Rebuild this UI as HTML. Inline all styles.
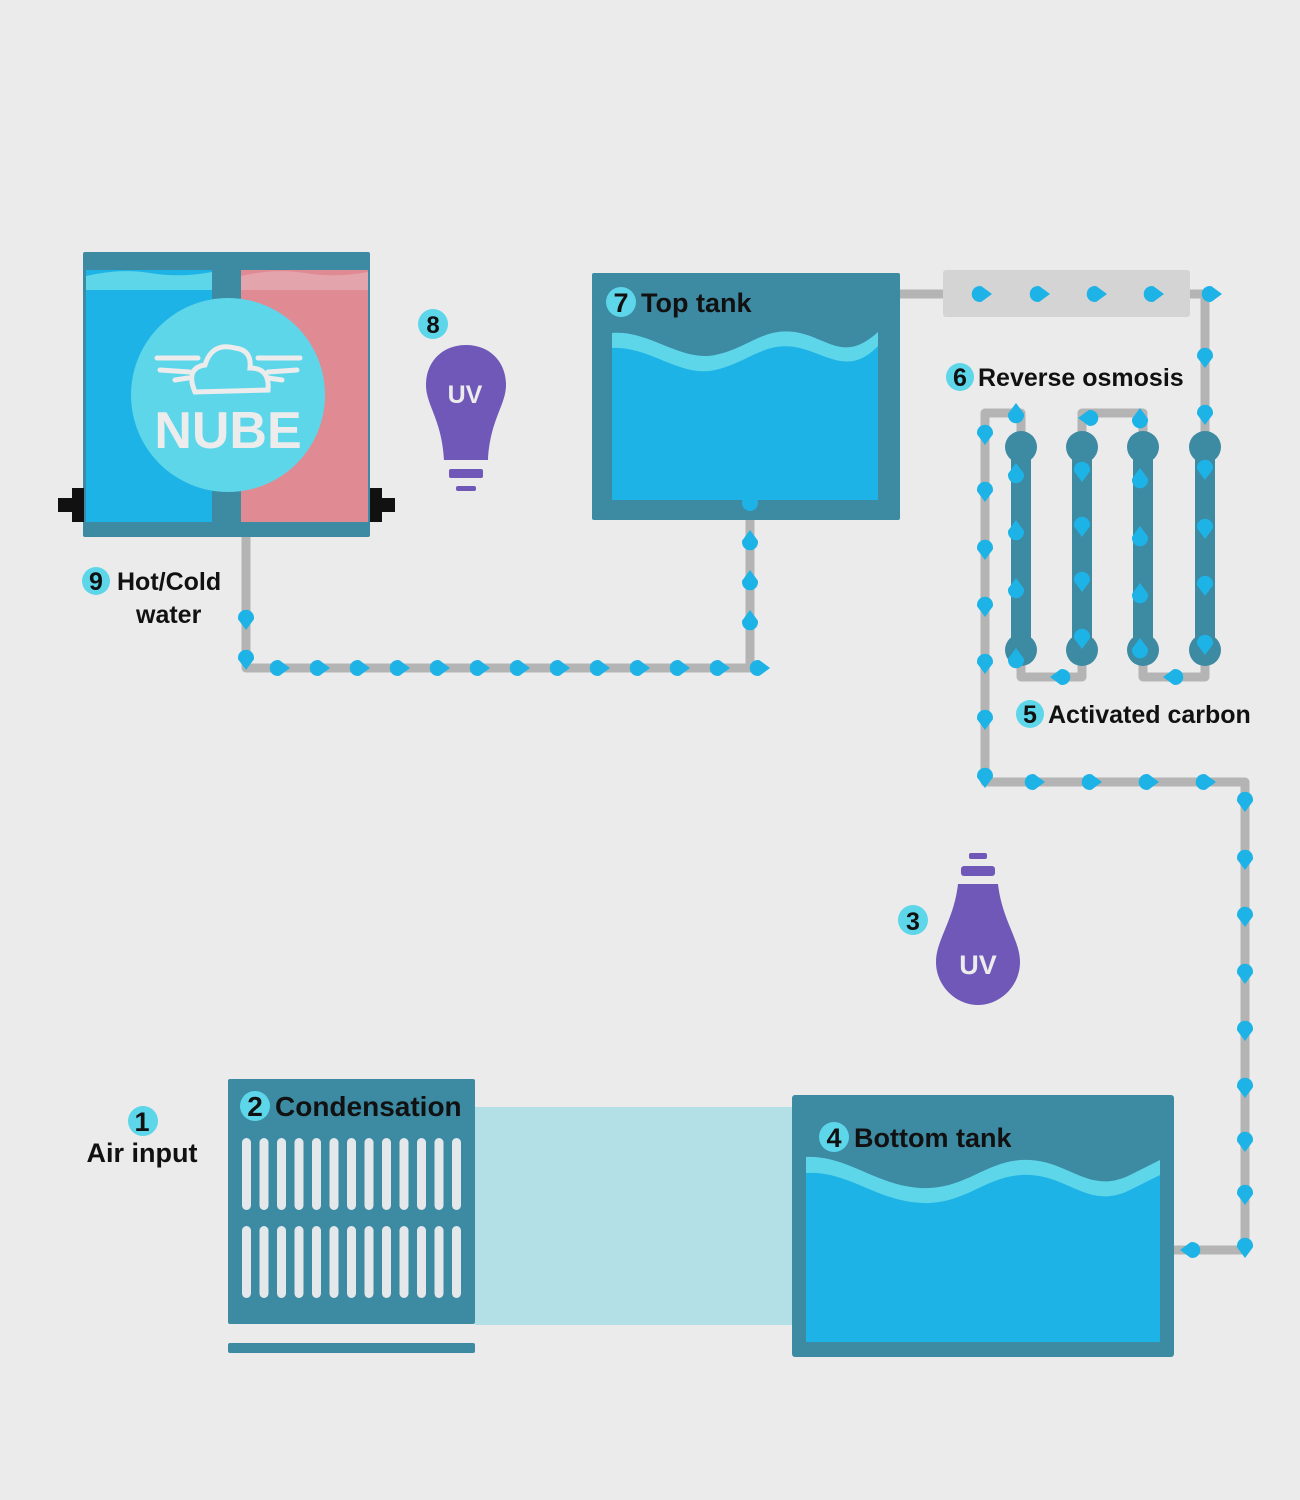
<!DOCTYPE html>
<html><head><meta charset="utf-8"><style>
html,body{margin:0;padding:0;background:#ebebeb;}
svg{display:block;}
text{font-family:"Liberation Sans","DejaVu Sans",sans-serif;font-weight:bold;}
</style></head><body>
<svg width="1300" height="1500" viewBox="0 0 1300 1500" xmlns="http://www.w3.org/2000/svg">
<defs>
<path id="d" d="M12,0 L1.5,-7.8 A8,8 0 1,0 1.5,7.8 Z" fill="#1db3e6"/>
</defs>
<rect width="1300" height="1500" fill="#ebebeb"/>

<g fill="none" stroke="#b4b4b4" stroke-width="9" stroke-linejoin="round">
<path d="M246,537 V668 H750 V520"/>
<path d="M900,294 H945"/>
<path d="M1188,294 H1205 V450"/>
<path d="M1021,450 V413 H985 V782 H1245 V1250 H1174"/>
<path d="M1082,450 V413 H1143 V450"/>
<path d="M1021,650 V677 H1082 V650"/>
<path d="M1143,650 V677 H1205 V650"/>
</g>
<rect x="943" y="270" width="247" height="47" rx="3" fill="#d4d4d4"/>
<g fill="#3d8aa3">
<rect x="1011" y="447" width="20" height="203"/><circle cx="1021" cy="447" r="16"/><circle cx="1021" cy="650" r="16"/>
<rect x="1072" y="447" width="20" height="203"/><circle cx="1082" cy="447" r="16"/><circle cx="1082" cy="650" r="16"/>
<rect x="1133" y="447" width="20" height="203"/><circle cx="1143" cy="447" r="16"/><circle cx="1143" cy="650" r="16"/>
<rect x="1195" y="447" width="20" height="203"/><circle cx="1205" cy="447" r="16"/><circle cx="1205" cy="650" r="16"/>
</g>

<rect x="83" y="252" width="287" height="285" rx="2" fill="#3d8aa3"/>
<rect x="86" y="270" width="126" height="252" fill="#1db3e6"/>
<path d="M86,276 Q120,268 150,273 T212,272 V290 H86 Z" fill="#5dd6ea"/>
<rect x="241" y="270" width="127" height="252" fill="#e08a94"/>
<path d="M241,276 Q275,268 305,273 T368,272 V290 H241 Z" fill="#e3a4ab"/>
<rect x="58" y="498" width="26" height="14" fill="#111"/><rect x="72" y="488" width="12" height="34" fill="#111"/>
<rect x="370" y="498" width="25" height="14" fill="#111"/><rect x="370" y="488" width="12" height="34" fill="#111"/>
<circle cx="228" cy="395" r="97" fill="#5dd6ea"/>
<g fill="none" stroke="#ececec" stroke-width="5" stroke-linecap="round">
<path d="M195,392 Q185,368 205,365 Q212,342 235,348 Q252,350 250,368 Q270,368 268,390 Z"/>
<path d="M157,358 H198 M160,370 L190,372 M175,380 L188,378"/>
<path d="M258,358 H300 M297,370 L268,372 M282,380 L268,378"/>
</g>
<text x="228" y="448" font-size="52" fill="#ececec" text-anchor="middle">NUBE</text>

<circle cx="433" cy="324" r="15" fill="#5dd6ea"/>
<text x="433" y="333" font-size="24" text-anchor="middle" fill="#111">8</text>
<path d="M466,345 C490,345 506,362 506,385 C506,405 490,420 488,460 H444 C442,420 426,405 426,385 C426,362 442,345 466,345 Z" fill="#6f58b8"/>
<rect x="449" y="469" width="34" height="9" rx="2" fill="#6f58b8"/>
<rect x="456" y="486" width="20" height="5" rx="2" fill="#6f58b8"/>
<text x="465" y="403" font-size="25" text-anchor="middle" fill="#ececec">UV</text>

<rect x="592" y="273" width="308" height="247" rx="2" fill="#3d8aa3"/>
<path d="M612,333 C650,330 680,362 715,355 C750,348 765,325 800,333 C830,340 845,362 878,332 V500 H612 Z" fill="#5dd6ea"/>
<path d="M612,348 C650,346 680,378 715,370 C750,362 765,340 800,348 C830,356 850,375 878,346 V500 H612 Z" fill="#1db3e6"/>
<circle cx="750" cy="503" r="8" fill="#1db3e6"/>
<circle cx="621" cy="302" r="15" fill="#5dd6ea"/>
<text x="621" y="312" font-size="27" text-anchor="middle" fill="#111">7</text>
<text x="641" y="312" font-size="27" fill="#111">Top tank</text>

<circle cx="960" cy="377" r="14" fill="#5dd6ea"/>
<text x="960" y="386" font-size="25" text-anchor="middle" fill="#111">6</text>
<text x="978" y="386" font-size="25" fill="#111">Reverse osmosis</text>
<circle cx="1030" cy="714" r="14" fill="#5dd6ea"/>
<text x="1030" y="723" font-size="25" text-anchor="middle" fill="#111">5</text>
<text x="1048" y="723" font-size="25" fill="#111">Activated carbon</text>
<circle cx="96" cy="581" r="14" fill="#5dd6ea"/>
<text x="96" y="590" font-size="25" text-anchor="middle" fill="#111">9</text>
<text x="117" y="590" font-size="25" fill="#111">Hot/Cold</text>
<text x="136" y="623" font-size="25" fill="#111">water</text>

<circle cx="913" cy="920" r="15" fill="#5dd6ea"/>
<text x="913" y="930" font-size="25" text-anchor="middle" fill="#111">3</text>
<rect x="969" y="853" width="18" height="6" rx="2" fill="#6f58b8"/>
<rect x="961" y="866" width="34" height="10" rx="3" fill="#6f58b8"/>
<path d="M958,884 H998 C1002,920 1020,940 1020,962 C1020,986 1000,1005 978,1005 C956,1005 936,986 936,962 C936,940 954,920 958,884 Z" fill="#6f58b8"/>
<text x="978" y="974" font-size="27" text-anchor="middle" fill="#ececec">UV</text>

<rect x="475" y="1107" width="317" height="218" fill="#b3dfe6"/>
<rect x="228" y="1079" width="247" height="245" rx="2" fill="#3d8aa3"/>
<rect x="228" y="1343" width="247" height="10" rx="2" fill="#3d8aa3"/>
<g fill="#e4e8ea">
<rect x="242" y="1138" width="9" height="72" rx="4.5"/><rect x="259.5" y="1138" width="9" height="72" rx="4.5"/><rect x="277" y="1138" width="9" height="72" rx="4.5"/><rect x="294.5" y="1138" width="9" height="72" rx="4.5"/><rect x="312" y="1138" width="9" height="72" rx="4.5"/><rect x="329.5" y="1138" width="9" height="72" rx="4.5"/><rect x="347" y="1138" width="9" height="72" rx="4.5"/><rect x="364.5" y="1138" width="9" height="72" rx="4.5"/><rect x="382" y="1138" width="9" height="72" rx="4.5"/><rect x="399.5" y="1138" width="9" height="72" rx="4.5"/><rect x="417" y="1138" width="9" height="72" rx="4.5"/><rect x="434.5" y="1138" width="9" height="72" rx="4.5"/><rect x="452" y="1138" width="9" height="72" rx="4.5"/>
<rect x="242" y="1226" width="9" height="72" rx="4.5"/><rect x="259.5" y="1226" width="9" height="72" rx="4.5"/><rect x="277" y="1226" width="9" height="72" rx="4.5"/><rect x="294.5" y="1226" width="9" height="72" rx="4.5"/><rect x="312" y="1226" width="9" height="72" rx="4.5"/><rect x="329.5" y="1226" width="9" height="72" rx="4.5"/><rect x="347" y="1226" width="9" height="72" rx="4.5"/><rect x="364.5" y="1226" width="9" height="72" rx="4.5"/><rect x="382" y="1226" width="9" height="72" rx="4.5"/><rect x="399.5" y="1226" width="9" height="72" rx="4.5"/><rect x="417" y="1226" width="9" height="72" rx="4.5"/><rect x="434.5" y="1226" width="9" height="72" rx="4.5"/><rect x="452" y="1226" width="9" height="72" rx="4.5"/>
</g>
<circle cx="255" cy="1106" r="15" fill="#5dd6ea"/>
<text x="255" y="1116" font-size="28" text-anchor="middle" fill="#111">2</text>
<text x="275" y="1116" font-size="28" fill="#111">Condensation</text>
<circle cx="143" cy="1121" r="15" fill="#5dd6ea"/>
<text x="142" y="1131" font-size="27" text-anchor="middle" fill="#111">1</text>
<text x="142" y="1162" font-size="27" text-anchor="middle" fill="#111">Air input</text>

<rect x="792" y="1095" width="382" height="262" rx="3" fill="#3d8aa3"/>
<path d="M806,1157 C850,1155 880,1190 930,1188 C970,1186 990,1158 1030,1160 C1070,1162 1090,1195 1130,1175 L1160,1160 V1342 H806 Z" fill="#5dd6ea"/>
<path d="M806,1173 C850,1170 880,1205 930,1203 C970,1201 990,1173 1030,1175 C1070,1177 1090,1210 1130,1190 L1160,1175 V1342 H806 Z" fill="#1db3e6"/>
<circle cx="834" cy="1137" r="15" fill="#5dd6ea"/>
<text x="834" y="1147" font-size="27" text-anchor="middle" fill="#111">4</text>
<text x="854" y="1147" font-size="27" fill="#111">Bottom tank</text>

<g>
<use href="#d" transform="translate(246,618) rotate(90)"/>
<use href="#d" transform="translate(246,658) rotate(90)"/>
<use href="#d" transform="translate(278,668)"/><use href="#d" transform="translate(318,668)"/><use href="#d" transform="translate(358,668)"/><use href="#d" transform="translate(398,668)"/><use href="#d" transform="translate(438,668)"/><use href="#d" transform="translate(478,668)"/><use href="#d" transform="translate(518,668)"/><use href="#d" transform="translate(558,668)"/><use href="#d" transform="translate(598,668)"/><use href="#d" transform="translate(638,668)"/><use href="#d" transform="translate(678,668)"/><use href="#d" transform="translate(718,668)"/><use href="#d" transform="translate(758,668)"/>
<use href="#d" transform="translate(750,622) rotate(-90)"/><use href="#d" transform="translate(750,582) rotate(-90)"/><use href="#d" transform="translate(750,542) rotate(-90)"/>
<use href="#d" transform="translate(980,294)"/><use href="#d" transform="translate(1038,294)"/><use href="#d" transform="translate(1095,294)"/><use href="#d" transform="translate(1152,294)"/><use href="#d" transform="translate(1210,294)"/>
<use href="#d" transform="translate(1205,356) rotate(90)"/><use href="#d" transform="translate(1205,413) rotate(90)"/><use href="#d" transform="translate(1205,468) rotate(90)"/><use href="#d" transform="translate(1205,527) rotate(90)"/><use href="#d" transform="translate(1205,584) rotate(90)"/><use href="#d" transform="translate(1205,643) rotate(90)"/>
<use href="#d" transform="translate(1175,677) rotate(180)"/>
<use href="#d" transform="translate(1140,650) rotate(-90)"/><use href="#d" transform="translate(1140,595) rotate(-90)"/><use href="#d" transform="translate(1140,538) rotate(-90)"/><use href="#d" transform="translate(1140,480) rotate(-90)"/><use href="#d" transform="translate(1140,420) rotate(-90)"/>
<use href="#d" transform="translate(1090,418) rotate(180)"/>
<use href="#d" transform="translate(1082,470) rotate(90)"/><use href="#d" transform="translate(1082,525) rotate(90)"/><use href="#d" transform="translate(1082,580) rotate(90)"/><use href="#d" transform="translate(1082,637) rotate(90)"/>
<use href="#d" transform="translate(1062,677) rotate(180)"/>
<use href="#d" transform="translate(1016,660) rotate(-90)"/><use href="#d" transform="translate(1016,590) rotate(-90)"/><use href="#d" transform="translate(1016,532) rotate(-90)"/><use href="#d" transform="translate(1016,475) rotate(-90)"/><use href="#d" transform="translate(1016,415) rotate(-90)"/>
<use href="#d" transform="translate(985,433) rotate(90)"/><use href="#d" transform="translate(985,490) rotate(90)"/><use href="#d" transform="translate(985,548) rotate(90)"/><use href="#d" transform="translate(985,605) rotate(90)"/><use href="#d" transform="translate(985,662) rotate(90)"/><use href="#d" transform="translate(985,718) rotate(90)"/><use href="#d" transform="translate(985,776) rotate(90)"/>
<use href="#d" transform="translate(1033,782)"/><use href="#d" transform="translate(1090,782)"/><use href="#d" transform="translate(1147,782)"/><use href="#d" transform="translate(1204,782)"/>
<use href="#d" transform="translate(1245,800) rotate(90)"/><use href="#d" transform="translate(1245,858) rotate(90)"/><use href="#d" transform="translate(1245,915) rotate(90)"/><use href="#d" transform="translate(1245,972) rotate(90)"/><use href="#d" transform="translate(1245,1029) rotate(90)"/><use href="#d" transform="translate(1245,1086) rotate(90)"/><use href="#d" transform="translate(1245,1140) rotate(90)"/><use href="#d" transform="translate(1245,1193) rotate(90)"/><use href="#d" transform="translate(1245,1246) rotate(90)"/>
<use href="#d" transform="translate(1192,1250) rotate(180)"/>
</g>
</svg>
</body></html>
